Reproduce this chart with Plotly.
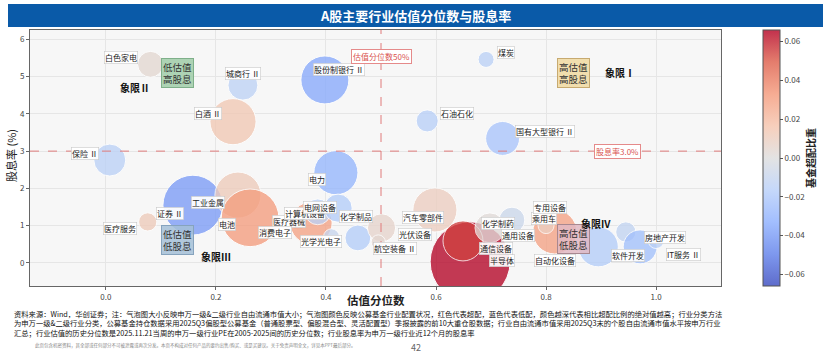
import plotly.graph_objects as go

# ---------------- data ----------------
industries = ["白色家电", "城商行 Ⅱ", "白酒 Ⅱ", "股份制银行 Ⅱ", "煤炭", "石油石化", "国有大型银行 Ⅱ", "保险 Ⅱ",
              "证券 Ⅱ", "工业金属", "电池", "医疗服务", "电力", "医疗器械", "消费电子", "计算机设备",
              "电网设备", "化学制品", "光学光电子", "汽车零部件", "光伏设备", "航空装备 Ⅱ", "半导体", "通信设备",
              "化学制药", "通用设备", "乘用车", "专用设备", "自动化设备", "软件开发", "房地产开发", "IT服务 Ⅱ"]
valuation_pct = [0.081, 0.249, 0.231, 0.398, 0.691, 0.584, 0.721, 0.007,
                 0.158, 0.240, 0.262, 0.076, 0.418, 0.349, 0.373, 0.385,
                 0.422, 0.458, 0.410, 0.598, 0.501, 0.495, 0.662, 0.649,
                 0.738, 0.698, 0.816, 0.800, 0.895, 0.945, 0.971, 1.000]
dividend_yield = [5.33, 4.77, 3.79, 4.91, 5.46, 3.81, 3.34, 2.76,
                  1.55, 1.82, 1.21, 1.10, 2.42, 1.15, 1.07, 1.37,
                  1.47, 0.67, 0.70, 1.42, 0.94, 0.56, 0.03, 0.59,
                  1.15, 0.94, 0.83, 1.00, 0.43, 0.83, 0.43, 0.60]
free_float_cap = [2.6, 3.5, 8.3, 9.0, 1.0, 1.9, 4.5, 4.0,
                  14.0, 8.3, 13.0, 1.3, 7.6, 1.6, 6.9, 2.6,
                  3.1, 2.6, 1.0, 7.6, 3.1, 0.8, 25.0, 6.25,
                  2.6, 3.5, 7.6, 1.0, 6.25, 1.6, 4.5, 1.0]
fund_overweight = [0.004, -0.014, 0.014, -0.035, -0.015, -0.016, -0.022, -0.015,
                   -0.040, 0.012, 0.032, 0.012, -0.030, 0.003, 0.030, -0.015,
                   -0.018, -0.018, -0.010, 0.010, 0.006, 0.004, 0.066, 0.055,
                   -0.008, 0.002, 0.030, 0.010, -0.018, -0.012, -0.025, -0.015]
colorbar_ticks = [-0.06, -0.04, -0.02, 0.00, 0.02, 0.04, 0.06]
x_ticks = [0.0, 0.2, 0.4, 0.6, 0.8, 1.0]
y_ticks = [0, 1, 2, 3, 4, 5, 6]
valuation_line = 0.5
yield_line = 3.0

# ---------------- styles / layout helpers ----------------
label_offsets = {  # pixel offsets of labels from bubble centers
    "白色家电": (-29, 7), "城商行 Ⅱ": (0, 12), "白酒 Ⅱ": (-25, 8), "股份制银行 Ⅱ": (14, 10),
    "煤炭": (20, 7), "石油石化": (30, 7), "国有大型银行 Ⅱ": (42, 7), "保险 Ⅱ": (-25, 7),
    "证券 Ⅱ": (-23, -8), "工业金属": (-30, -7), "电池": (-23, -7), "医疗服务": (-28, -7),
    "电力": (-19, -7), "消费电子": (-36, -9), "计算机设备": (-13, -2), "电网设备": (-18, 1),
    "医疗器械": (-9, -1), "化学制品": (-2, 21), "光学光电子": (-10, -5), "汽车零部件": (-12, -8),
    "光伏设备": (33, -7), "航空装备 Ⅱ": (17, -6), "半导体": (32, 1), "通信设备": (33, -8),
    "化学制药": (-14, -3), "通用设备": (28, -8), "乘用车": (-11, 13), "专用设备": (4, 18),
    "自动化设备": (-43, -14), "软件开发": (2, -24), "房地产开发": (25, 9), "IT服务 Ⅱ": (27, -14),
}

cmin, cmax = -0.066, 0.066
coolwarm = [(59, 76, 192), (98, 130, 234), (141, 176, 254), (184, 208, 249), (221, 221, 221),
            (245, 196, 173), (244, 154, 123), (222, 96, 77), (180, 4, 38)]


def scale(alpha):
    out = []
    for i, (r, g, b) in enumerate(coolwarm):
        rr = round(r * alpha + 255 * (1 - alpha))
        gg = round(g * alpha + 255 * (1 - alpha))
        bb = round(b * alpha + 255 * (1 - alpha))
        out.append([i / (len(coolwarm) - 1), f"rgb({rr},{gg},{bb})"])
    return out


FONT = "Noto Sans CJK SC"
k = 8.0  # px radius per sqrt(unit)
sizeref = 1 / (2 * k * k)

W, H = 831, 353
L, R, T, B = 30, 721, 30, 286


def px_x(px):
    return (px - L) / (R - L)


def px_y(py):
    return (B - py) / (B - T)


fig = go.Figure()
fig.add_trace(go.Scatter(
    x=valuation_pct, y=dividend_yield, mode="markers", text=industries,
    marker=dict(size=free_float_cap, sizemode="area", sizeref=sizeref,
                color=fund_overweight, colorscale=scale(1.0), cmin=cmin, cmax=cmax,
                opacity=0.78, line=dict(color="white", width=1), showscale=False),
    hovertemplate="%{text}<extra></extra>", showlegend=False, cliponaxis=True))

# colorbar (blended colours, as drawn with alpha)
fig.add_trace(go.Scatter(
    x=valuation_pct, y=dividend_yield, mode="markers", hoverinfo="skip", showlegend=False,
    marker=dict(size=1, opacity=0, color=fund_overweight, colorscale=scale(0.82), cmin=cmin, cmax=cmax,
                showscale=True,
                colorbar=dict(x=px_x(763), xanchor="left", xref="paper", y=0.5, yanchor="middle", len=1.0,
                              lenmode="fraction", thickness=17, ypad=0, xpad=0,
                              outlinewidth=1, outlinecolor="#555",
                              tickvals=colorbar_ticks,
                              ticktext=[("−" if v < 0 else "") + f"{abs(v):.2f}" for v in colorbar_ticks],
                              ticks="outside", ticklen=3, tickcolor="#555",
                              tickfont=dict(size=8, color="#444", family=FONT),
                              title=dict(text="<b>基金超配比重</b>", side="right",
                                         font=dict(size=10, color="#222", family=FONT))))))

annotations = []
for name, xv, yv in zip(industries, valuation_pct, dividend_yield):
    dx, dy = label_offsets[name]
    annotations.append(dict(x=xv, y=yv, xref="x", yref="y", text=name, showarrow=False,
                            xanchor="center", yanchor="middle",
                            xshift=dx, yshift=dy, font=dict(size=8, color="#222", family=FONT),
                            bgcolor="rgba(255,255,255,0.92)", bordercolor="#c8c8c8", borderwidth=0.6,
                            borderpad=0.3))

# reference line labels
annotations.append(dict(x=valuation_line, y=5.53, xref="x", yref="y", text="估值分位数50%", showarrow=False,
                        xanchor="center", yanchor="middle",
                        font=dict(size=8, color="#d9534f", family=FONT), bgcolor="white",
                        bordercolor="#e58a8a", borderwidth=1, borderpad=1))
annotations.append(dict(x=0.93, y=yield_line, xref="x", yref="y", text="股息率3.0%", showarrow=False,
                        xanchor="center", yanchor="middle",
                        font=dict(size=8, color="#d9534f", family=FONT), bgcolor="white",
                        bordercolor="#e58a8a", borderwidth=1, borderpad=1))

# quadrant boxes
quad_boxes = [
    (0.13, 5.1, "低估值<br>高股息", "rgba(160,205,168,0.85)", "#7fb08a"),
    (0.85, 5.1, "高估值<br>高股息", "rgba(240,218,165,0.9)", "#c7aa70"),
    (0.13, 0.62, "低估值<br>低股息", "rgba(165,192,215,0.85)", "#86a3bd"),
    (0.85, 0.64, "高估值<br>低股息", "rgba(225,185,195,0.85)", "#a88890"),
]
for xq, yq, t, bg, bc in quad_boxes:
    annotations.append(dict(x=xq, y=yq, xref="x", yref="y", text=t, showarrow=False,
                            xanchor="center", yanchor="middle",
                            font=dict(size=9.5, color="#333", family=FONT), bgcolor=bg,
                            bordercolor=bc, borderwidth=1, borderpad=1))
quad_labels = [(0.052, 4.72, "象限Ⅱ"), (0.935, 5.11, "象限Ⅰ"), (0.2, 0.17, "象限Ⅲ"), (0.89, 1.07, "象限IV")]
for xq, yq, t in quad_labels:
    annotations.append(dict(x=xq, y=yq, xref="x", yref="y", text=f"<b>{t}</b>", showarrow=False,
                            xanchor="center", yanchor="middle",
                            font=dict(size=10, color="#111", family=FONT)))

# title, axis titles, notes
annotations.append(dict(x=px_x(415), y=px_y(15.5), xref="paper", yref="paper", xanchor="center", yanchor="middle",
                        text="<b>A股主要行业估值分位数与股息率</b>", showarrow=False,
                        font=dict(size=13, color="white", family=FONT)))
annotations.append(dict(x=px_x(376), y=px_y(300), xref="paper", yref="paper", xanchor="center", yanchor="middle",
                        text="<b>估值分位数</b>", showarrow=False,
                        font=dict(size=11.5, color="#222", family=FONT)))
annotations.append(dict(x=px_x(11), y=px_y(156), xref="paper", yref="paper", xanchor="center", yanchor="middle",
                        text="股息率 (%)", showarrow=False, textangle=-90,
                        font=dict(size=11, color="#222", family=FONT)))
notes = ("资料来源：Wind，华创证券；注：气泡图大小反映申万一级&二级行业自由流通市值大小；气泡图颜色反映公募基金行业配置状况，红色代表超配，蓝色代表低配，颜色越深代表相比超配比例的绝对值越高；行业分类方法<br>"
         "为申万一级&二级行业分类，公募基金持仓数据采用2025Q3偏股型公募基金（普通股票型、偏股混合型、灵活配置型）季报披露的前10大重仓股数据；行业自由流通市值采用2025Q3末的个股自由流通市值水平按申万行业<br>"
         "汇总；行业估值的历史分位数是2025.11.21当周的申万一级行业PE在2005-2025间的历史分位数；行业股息率为申万一级行业近12个月的股息率")
annotations.append(dict(x=px_x(12), y=px_y(323), xref="paper", yref="paper", xanchor="left", yanchor="middle",
                        text=notes, showarrow=False, align="left",
                        font=dict(size=7.3, color="#111", family=FONT)))
annotations.append(dict(x=px_x(33), y=px_y(345), xref="paper", yref="paper", xanchor="left", yanchor="middle",
                        text="此页包含机密资料，其全部或任何部分不可被泄露或再次分发。本页不构成对任何产品的要约出售/购买、或是买建议。关于免责声明全文，详见本PPT最后部分。",
                        showarrow=False, font=dict(size=4.5, color="#888", family=FONT)))
annotations.append(dict(x=px_x(416), y=px_y(347), xref="paper", yref="paper", xanchor="center", yanchor="middle",
                        text="42", showarrow=False,
                        font=dict(size=9, color="#666", family=FONT)))

shapes = [
    dict(type="rect", xref="paper", yref="paper", x0=px_x(8), x1=px_x(823), y0=px_y(27), y1=px_y(4),
         fillcolor="#0a5aa8", line=dict(width=0), layer="below"),
    dict(type="line", xref="x", yref="paper", x0=valuation_line, x1=valuation_line, y0=0, y1=1,
         line=dict(color="#e07b7b", width=1, dash="dash"), layer="above"),
    dict(type="line", xref="paper", yref="y", x0=0, x1=1, y0=yield_line, y1=yield_line,
         line=dict(color="#e07b7b", width=1, dash="dash"), layer="above"),
]

fig.update_layout(
    width=W, height=H, margin=dict(l=L, r=W - R, t=T, b=H - B, autoexpand=False),
    paper_bgcolor="white", plot_bgcolor="#f7f7f7",
    font=dict(family=FONT),
    annotations=annotations, shapes=shapes, hovermode="closest",
)
fig.update_xaxes(range=[-0.138, 1.118], tickvals=x_ticks, ticktext=[f"{v:.1f}" for v in x_ticks],
                 showgrid=True, gridcolor="#e6e6e6", gridwidth=1, zeroline=False,
                 showline=True, mirror=True, linecolor="#666", linewidth=1,
                 ticks="outside", ticklen=3, tickcolor="#666",
                 tickfont=dict(size=8, color="#444", family=FONT))
fig.update_yaxes(range=[-0.62, 6.25], tickvals=y_ticks,
                 showgrid=True, gridcolor="#e6e6e6", gridwidth=1, zeroline=False,
                 showline=True, mirror=True, linecolor="#666", linewidth=1,
                 ticks="outside", ticklen=3, tickcolor="#666",
                 tickfont=dict(size=8, color="#444", family=FONT))

fig.write_html("out.html")
